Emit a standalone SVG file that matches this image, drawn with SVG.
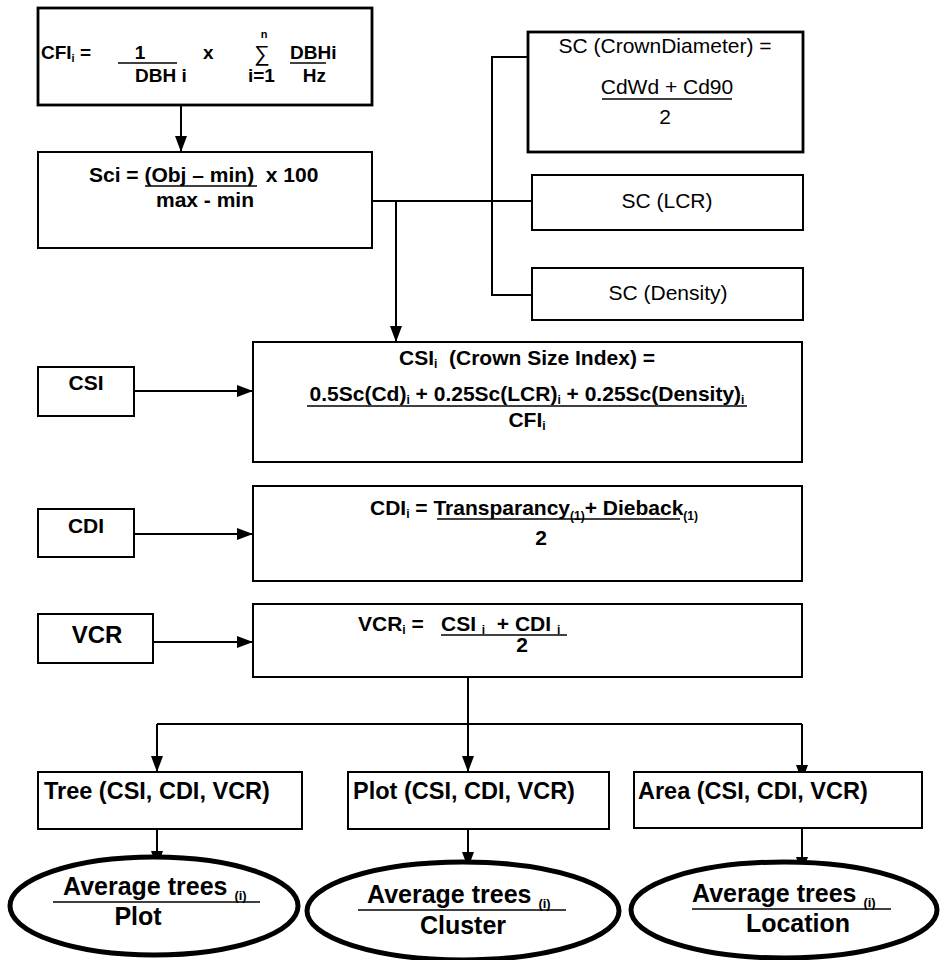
<svg xmlns="http://www.w3.org/2000/svg" width="942" height="960" viewBox="0 0 942 960">
<style>
text{font-family:"Liberation Sans",Arial,sans-serif;fill:#000;white-space:pre}
.b{font-weight:bold}
.box{fill:#fff;stroke:#000;stroke-width:2}
.thick{stroke-width:2.8}
.ell{fill:#fff;stroke:#000;stroke-width:5}
.ln{stroke:#000;stroke-width:2;fill:none}
.ul{stroke:#000;stroke-width:1.5}
.f19{font-size:19px}
.f21{font-size:21px}
.f23{font-size:23.5px}
.f25{font-size:25px}
</style>
<defs>
<marker id="ah" markerWidth="16" markerHeight="12" refX="16" refY="6" orient="auto" markerUnits="userSpaceOnUse">
<path d="M0,0 L16,6 L0,12 z" fill="#000"/>
</marker>
</defs>
<rect width="942" height="960" fill="#fff"/>

<g id="connectors">
<line class="ln" x1="181" y1="105" x2="181" y2="152" marker-end="url(#ah)"/>
<line class="ln" x1="372" y1="201" x2="532" y2="201"/>
<polyline class="ln" points="528,57 492,57 492,295 532,295"/>
<line class="ln" x1="396" y1="201" x2="396" y2="342" marker-end="url(#ah)"/>
<line class="ln" x1="134" y1="391" x2="253" y2="391" marker-end="url(#ah)"/>
<line class="ln" x1="134" y1="534" x2="253" y2="534" marker-end="url(#ah)"/>
<line class="ln" x1="153" y1="642" x2="253" y2="642" marker-end="url(#ah)"/>
<line class="ln" x1="468" y1="677" x2="468" y2="724"/>
<line class="ln" x1="157" y1="724" x2="802" y2="724"/>
<line class="ln" x1="157" y1="724" x2="157" y2="772" marker-end="url(#ah)"/>
<line class="ln" x1="468" y1="724" x2="468" y2="772" marker-end="url(#ah)"/>
<line class="ln" x1="802" y1="724" x2="802" y2="781" marker-end="url(#ah)"/>
<line class="ln" x1="157" y1="829" x2="157" y2="867" marker-end="url(#ah)"/>
<line class="ln" x1="468" y1="829" x2="468" y2="868" marker-end="url(#ah)"/>
<line class="ln" x1="802" y1="828" x2="802" y2="873" marker-end="url(#ah)"/>
</g>

<g id="cfi">
<rect class="box thick" x="38" y="8" width="334" height="97"/>
<text class="b f19" x="41" y="59">CFI<tspan font-size="11" dy="3">i</tspan><tspan dy="-3"> =</tspan></text>
<text class="b f19" x="140" y="59" text-anchor="middle">1</text>
<line class="ul" x1="118" y1="63" x2="177" y2="63" stroke-width="2"/>
<text class="b f19" x="135" y="82">DBH i</text>
<text class="b f19" x="203" y="59">x</text>
<text font-size="22" x="262" y="61" text-anchor="middle">∑</text>
<text class="b" font-size="11" x="264" y="38" text-anchor="middle">n</text>
<text class="b f19" x="248" y="82">i=1</text>
<text class="b f19" x="290" y="59">DBHi</text>
<line class="ul" x1="290" y1="63" x2="326" y2="63"/>
<text class="b f19" x="326" y="82" text-anchor="end">Hz</text>
</g>

<g id="sci">
<rect class="box" x="38" y="152" width="334" height="96"/>
<text class="b f21" x="89" y="182">Sci = (Obj – min)  x 100</text>
<line class="ul" x1="145" y1="186" x2="257" y2="186"/>
<text class="b f21" x="156" y="207">max - min</text>
</g>

<g id="sc-crown">
<rect class="box thick" x="528" y="32" width="275" height="120"/>
<text class="f21" x="665" y="53" text-anchor="middle">SC (CrownDiameter) =</text>
<text class="f21" x="667" y="94" text-anchor="middle">CdWd + Cd90</text>
<line class="ul" x1="602" y1="99" x2="732" y2="99"/>
<text class="f21" x="665" y="124" text-anchor="middle">2</text>
</g>

<g id="sc-lcr">
<rect class="box" x="532" y="175" width="271" height="55"/>
<text class="f21" x="667" y="208" text-anchor="middle">SC (LCR)</text>
</g>

<g id="sc-density">
<rect class="box" x="532" y="268" width="271" height="52"/>
<text class="f21" x="668" y="300" text-anchor="middle">SC (Density)</text>
</g>

<g id="csi-label">
<rect class="box" x="38" y="367" width="96" height="49"/>
<text class="b f21" x="86" y="390" text-anchor="middle">CSI</text>
</g>

<g id="csi">
<rect class="box" x="253" y="342" width="549" height="120"/>
<text class="b f21" x="527" y="365" text-anchor="middle">CSI<tspan font-size="12" dy="3">i</tspan><tspan dy="-3">  (Crown Size Index) =</tspan></text>
<text class="b f21" x="527" y="401" text-anchor="middle">0.5Sc(Cd)<tspan font-size="12" dy="3">i</tspan><tspan dy="-3"> + 0.25Sc(LCR)</tspan><tspan font-size="12" dy="3">i</tspan><tspan dy="-3"> + 0.25Sc(Density)</tspan><tspan font-size="12" dy="3">i</tspan></text>
<line class="ul" x1="307" y1="406" x2="747" y2="406"/>
<text class="b f21" x="527" y="427" text-anchor="middle">CFI<tspan font-size="12" dy="3">i</tspan></text>
</g>

<g id="cdi-label">
<rect class="box" x="38" y="509" width="96" height="48"/>
<text class="b f21" x="86" y="533" text-anchor="middle">CDI</text>
</g>

<g id="cdi">
<rect class="box" x="253" y="486" width="549" height="95"/>
<text class="b f21" x="370" y="515">CDI<tspan font-size="12" dy="3">i</tspan><tspan dy="-3"> = Transparancy</tspan><tspan font-size="12" dy="5">(1)</tspan><tspan dy="-5">+ Dieback</tspan><tspan font-size="12" dy="5">(1)</tspan></text>
<line class="ul" x1="437" y1="519" x2="680" y2="519"/>
<text class="b f21" x="541" y="545" text-anchor="middle">2</text>
</g>

<g id="vcr-label">
<rect class="box" x="38" y="614" width="115" height="49"/>
<text class="b" font-size="24" x="97" y="643" text-anchor="middle">VCR</text>
</g>

<g id="vcr">
<rect class="box" x="253" y="604" width="549" height="73"/>
<text class="b f21" x="358" y="631">VCR<tspan font-size="12" dy="3">i</tspan><tspan dy="-3"> =</tspan></text>
<text class="b f21" x="441" y="631">CSI <tspan font-size="12" dy="3">i</tspan><tspan dy="-3">  + CDI </tspan><tspan font-size="12" dy="3">i</tspan></text>
<line class="ul" x1="441" y1="635" x2="567" y2="635"/>
<text class="b f21" x="522" y="652" text-anchor="middle">2</text>
</g>

<g id="tree">
<rect class="box" x="38" y="772" width="264" height="57"/>
<text class="b f23" x="44" y="799">Tree (CSI, CDI, VCR)</text>
</g>

<g id="plot">
<rect class="box" x="348" y="772" width="261" height="57"/>
<text class="b f23" x="353" y="799">Plot (CSI, CDI, VCR)</text>
</g>

<g id="area">
<rect class="box" x="634" y="772" width="288" height="56"/>
<text class="b f23" x="638" y="799">Area (CSI, CDI, VCR)</text>
</g>

<g id="avg-plot">
<ellipse class="ell" cx="154" cy="906" rx="144" ry="49"/>
<text class="b f25" x="63" y="895">Average trees <tspan font-size="13" dy="5">(i)</tspan></text>
<line class="ul" x1="53" y1="902" x2="260" y2="902"/>
<text class="b f25" x="138" y="925" text-anchor="middle">Plot</text>
</g>

<g id="avg-cluster">
<ellipse class="ell" cx="463" cy="911" rx="156" ry="49"/>
<text class="b f25" x="367" y="903">Average trees <tspan font-size="13" dy="5">(i)</tspan></text>
<line class="ul" x1="358" y1="910" x2="566" y2="910"/>
<text class="b f25" x="463" y="934" text-anchor="middle">Cluster</text>
</g>

<g id="avg-location">
<ellipse class="ell" cx="784" cy="910" rx="153" ry="48"/>
<text class="b f25" x="692" y="902">Average trees <tspan font-size="13" dy="5">(i)</tspan></text>
<line class="ul" x1="692" y1="909" x2="891" y2="909"/>
<text class="b f25" x="798" y="932" text-anchor="middle">Location</text>
</g>
</svg>
